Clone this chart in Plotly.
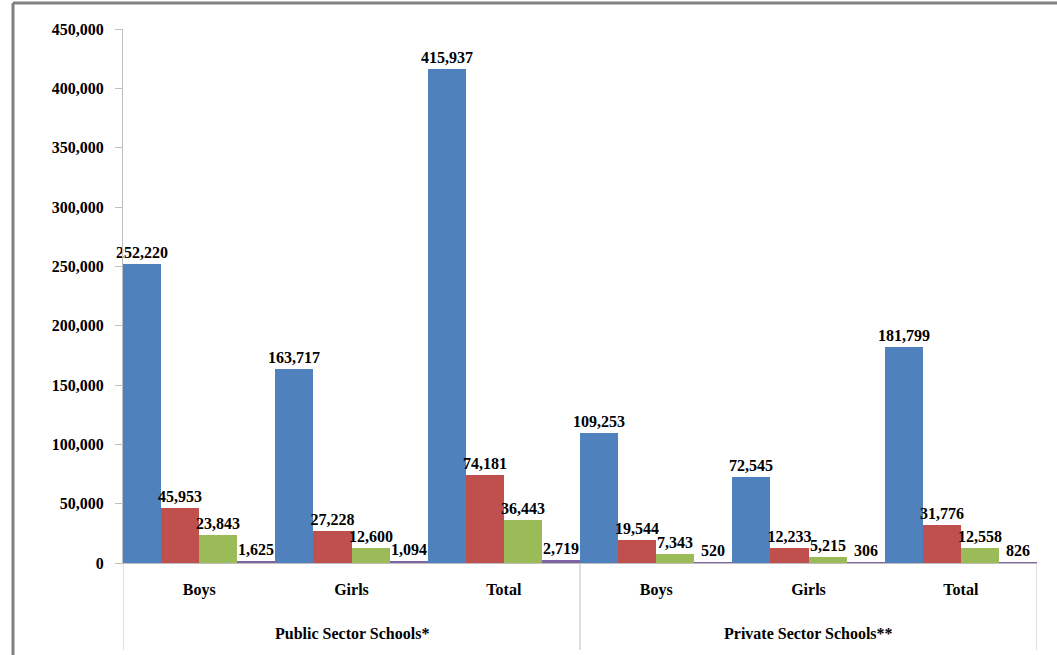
import plotly.graph_objects as go

sectors = ["Public Sector Schools*"] * 3 + ["Private Sector Schools**"] * 3
groups = ["Boys", "Girls", "Total", "Boys", "Girls", "Total"]

series1 = [252220, 163717, 415937, 109253, 72545, 181799]
series2 = [45953, 27228, 74181, 19544, 12233, 31776]
series3 = [23843, 12600, 36443, 7343, 5215, 12558]
series4 = [1625, 1094, 2719, 520, 306, 826]

colors = ["#4F81BD", "#C0504D", "#9BBB59", "#8064A2"]
names = ["Series 1", "Series 2", "Series 3", "Series 4"]

cats = [f"{s} | {g}" for s, g in zip(sectors, groups)]

font_family = "Liberation Serif"
bold = dict(family=font_family, size=16, color="black", weight="bold")
fig = go.Figure()
for vals, c, n in zip([series1, series2, series3, series4], colors, names):
    fig.add_trace(go.Bar(
        x=cats, y=vals, name=n,
        marker=dict(color=c, line=dict(width=0)),
        texttemplate="%{y:,}", textposition="outside",
        textfont=bold,
        cliponaxis=False,
    ))

W, H = 1057, 655
l, r, t, b = 123, 20, 29, 92
pw, ph = W - l - r, H - t - b

def px_x(x):
    return (x - l) / pw

def px_y(y):
    return (H - b - y) / ph

shapes = [
    dict(type="line", xref="paper", yref="paper",
         x0=px_x(13), x1=px_x(13), y0=px_y(3), y1=px_y(700),
         line=dict(color="#808080", width=3)),
    dict(type="line", xref="paper", yref="paper",
         x0=px_x(13), x1=px_x(1100), y0=px_y(3), y1=px_y(3),
         line=dict(color="#808080", width=3)),
]
# group dividers between sectors
unique_sectors = list(dict.fromkeys(sectors))
bounds = [-0.5]
for s in unique_sectors:
    bounds.append(bounds[-1] + sectors.count(s))
for bx in bounds:
    shapes.append(dict(type="line", xref="x", yref="paper",
                       x0=bx, x1=bx, y0=0, y1=px_y(650),
                       line=dict(color="#BFBFBF", width=1)))
annotations = []
for i, s in enumerate(unique_sectors):
    mid = (bounds[i] + bounds[i + 1]) / 2
    annotations.append(dict(xref="x", yref="paper", x=mid, y=px_y(633),
                            text=s, showarrow=False, font=bold,
                            xanchor="center", yanchor="middle"))

fig.update_layout(
    width=W, height=H,
    margin=dict(l=l, r=r, t=t, b=b),
    barmode="group", bargap=0, bargroupgap=0,
    showlegend=False,
    plot_bgcolor="white", paper_bgcolor="white",
    font=bold,
    uniformtext=dict(mode="show", minsize=16),
    shapes=shapes, annotations=annotations,
)
fig.update_yaxes(
    range=[0, 450000], tickvals=list(range(0, 450001, 50000)),
    tickformat=",", showgrid=False, zeroline=False,
    showline=True, linecolor="#BFBFBF", linewidth=1,
    ticks="outside", ticklen=7, tickcolor="#BFBFBF",
    tickfont=bold, ticklabelstandoff=8,
)
fig.update_xaxes(
    type="category", range=[-0.5, len(cats) - 0.5],
    tickvals=cats, ticktext=groups,
    showline=True, linecolor="#BFBFBF", linewidth=1,
    ticks="", showgrid=False,
    tickfont=bold, ticklabelstandoff=12,
)
fig.write_html("out.html")
